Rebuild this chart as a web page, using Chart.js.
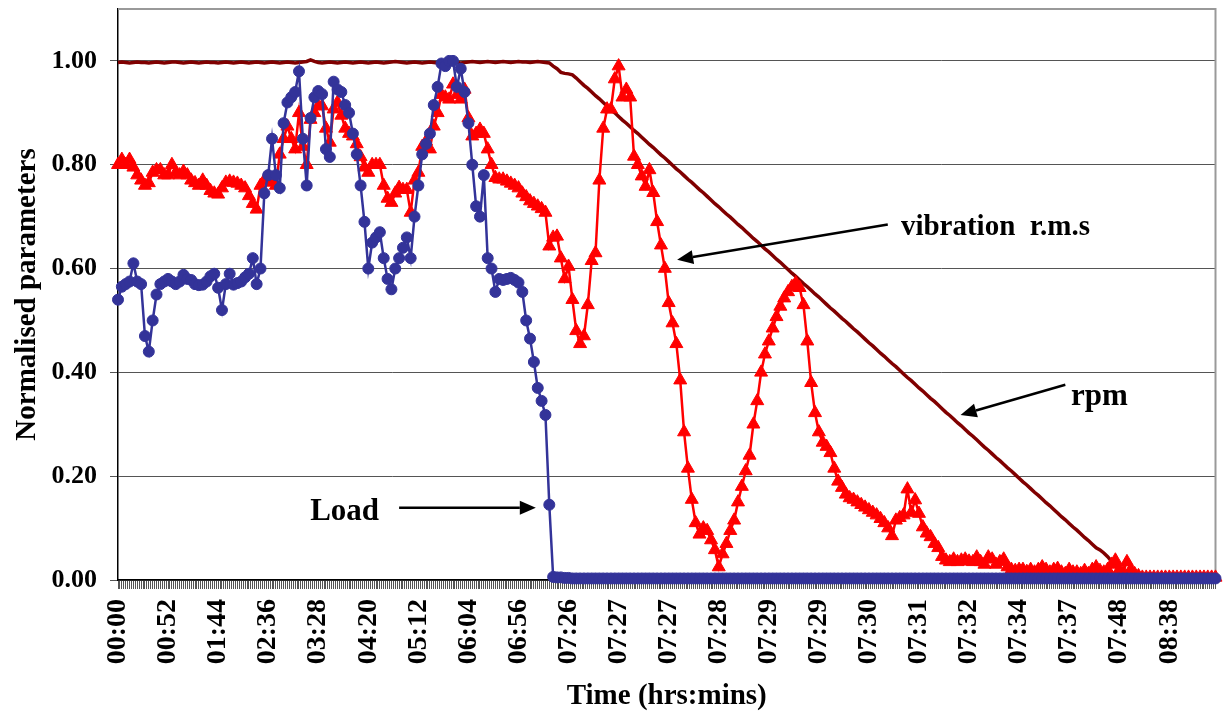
<!DOCTYPE html>
<html>
<head>
<meta charset="utf-8">
<script src="https://cdn.jsdelivr.net/npm/chart.js@4.4.1/dist/chart.umd.min.js"></script>
<style>
  html, body { margin: 0; padding: 0; background: #fff; }
  #wrap { width: 1224px; height: 718px; }
</style>
</head>
<body>
<div id="wrap"><canvas id="chart" width="1224" height="718"></canvas></div>
<script>
// --- Data (one value per sample, label every 13th sample) ---
const tickLabels = ['00:00', '00:52', '01:44', '02:36', '03:28', '04:20', '05:12', '06:04', '06:56',
    '07:26', '07:27', '07:27', '07:28', '07:29', '07:29', '07:30', '07:31', '07:32', '07:34',
    '07:37', '07:48', '08:38'];
const LABEL_EVERY = 13;

const loadValues = [
    /*0*/   0.54, 0.565, 0.57, 0.575, 0.61, 0.575, 0.57, 0.47, 0.44, 0.50,
    /*10*/  0.55, 0.57, 0.575, 0.58, 0.575, 0.57, 0.575, 0.588, 0.58, 0.578,
    /*20*/  0.57, 0.568, 0.569, 0.575, 0.585, 0.59, 0.563, 0.52, 0.57, 0.59,
    /*30*/  0.569, 0.572, 0.575, 0.583, 0.59, 0.62, 0.57, 0.60, 0.745, 0.78,
    /*40*/  0.85, 0.78, 0.755, 0.88, 0.92, 0.93, 0.94, 0.98, 0.85, 0.76,
    /*50*/  0.89, 0.93, 0.942, 0.936, 0.83, 0.815, 0.96, 0.945, 0.94, 0.915,
    /*60*/  0.90, 0.86, 0.82, 0.76, 0.69, 0.60, 0.65, 0.66, 0.67, 0.62,
    /*70*/  0.58, 0.56, 0.60, 0.62, 0.64, 0.66, 0.62, 0.70, 0.76, 0.82,
    /*80*/  0.84, 0.86, 0.915, 0.95, 0.995, 0.99, 1.0, 1.0, 0.95, 0.985,
    /*90*/  0.94, 0.88, 0.80, 0.72, 0.70, 0.78, 0.62, 0.60, 0.555, 0.58,
    /*100*/ 0.578, 0.58, 0.582, 0.578, 0.573, 0.555, 0.50, 0.465, 0.42, 0.37,
    /*110*/ 0.345, 0.318, 0.145, 0.006, 0.005, 0.005, 0.004, 0.004, 0.003, 0.003,
    /*120*/ 0.003, 0.003, 0.003, 0.003, 0.003, 0.003, 0.003, 0.003, 0.003, 0.003,
    /*130*/ 0.003, 0.003, 0.003, 0.003, 0.003, 0.003, 0.003, 0.003, 0.003, 0.003,
    /*140*/ 0.003, 0.003, 0.003, 0.003, 0.003, 0.003, 0.003, 0.003, 0.003, 0.003,
    /*150*/ 0.003, 0.003, 0.003, 0.003, 0.003, 0.003, 0.003, 0.003, 0.003, 0.003,
    /*160*/ 0.003, 0.003, 0.003, 0.003, 0.003, 0.003, 0.003, 0.003, 0.003, 0.003,
    /*170*/ 0.003, 0.003, 0.003, 0.003, 0.003, 0.003, 0.003, 0.003, 0.003, 0.003,
    /*180*/ 0.003, 0.003, 0.003, 0.003, 0.003, 0.003, 0.003, 0.003, 0.003, 0.003,
    /*190*/ 0.003, 0.003, 0.003, 0.003, 0.003, 0.003, 0.003, 0.003, 0.003, 0.003,
    /*200*/ 0.003, 0.003, 0.003, 0.003, 0.003, 0.003, 0.003, 0.003, 0.003, 0.003,
    /*210*/ 0.003, 0.003, 0.003, 0.003, 0.003, 0.003, 0.003, 0.003, 0.003, 0.003,
    /*220*/ 0.003, 0.003, 0.003, 0.003, 0.003, 0.003, 0.003, 0.003, 0.003, 0.003,
    /*230*/ 0.003, 0.003, 0.003, 0.003, 0.003, 0.003, 0.003, 0.003, 0.003, 0.003,
    /*240*/ 0.003, 0.003, 0.003, 0.003, 0.003, 0.003, 0.003, 0.003, 0.003, 0.003,
    /*250*/ 0.003, 0.003, 0.003, 0.003, 0.003, 0.003, 0.003, 0.003, 0.003, 0.003,
    /*260*/ 0.003, 0.003, 0.003, 0.003, 0.003, 0.003, 0.003, 0.003, 0.003, 0.003,
    /*270*/ 0.003, 0.003, 0.003, 0.003, 0.003, 0.003, 0.003, 0.003, 0.003, 0.003,
    /*280*/ 0.003, 0.003, 0.003, 0.003, 0.003, 0.003
];

const vibValues = [
    /*0*/   0.80, 0.81, 0.80, 0.81, 0.795, 0.78, 0.77, 0.76, 0.765, 0.785,
    /*10*/  0.79, 0.79, 0.78, 0.78, 0.80, 0.785, 0.78, 0.787, 0.78, 0.77,
    /*20*/  0.765, 0.76, 0.77, 0.76, 0.75, 0.745, 0.743, 0.755, 0.766, 0.768,
    /*30*/  0.766, 0.764, 0.76, 0.755, 0.74, 0.725, 0.714, 0.76, 0.77, 0.77,
    /*40*/  0.766, 0.76, 0.82, 0.85, 0.874, 0.85, 0.83, 0.90, 0.835, 0.80,
    /*50*/  0.887, 0.90, 0.913, 0.913, 0.87, 0.843, 0.907, 0.92, 0.895, 0.87,
    /*60*/  0.86, 0.855, 0.84, 0.815, 0.795, 0.785, 0.80, 0.80, 0.80, 0.76,
    /*70*/  0.735, 0.727, 0.745, 0.756, 0.752, 0.752, 0.708, 0.77, 0.785, 0.835,
    /*80*/  0.845, 0.83, 0.874, 0.90, 0.935, 0.93, 0.926, 0.955, 0.935, 0.926,
    /*90*/  0.945, 0.89, 0.855, 0.86, 0.868, 0.86, 0.83, 0.80, 0.775, 0.772,
    /*100*/ 0.772, 0.768, 0.764, 0.76, 0.755, 0.745, 0.738, 0.73, 0.725, 0.72,
    /*110*/ 0.715, 0.708, 0.643, 0.66, 0.662, 0.62, 0.58, 0.604, 0.54, 0.48,
    /*120*/ 0.455, 0.47, 0.53, 0.615, 0.63, 0.77, 0.87, 0.907, 0.907, 0.965,
    /*130*/ 0.99, 0.93, 0.945, 0.93, 0.816, 0.80, 0.778, 0.758, 0.79, 0.746,
    /*140*/ 0.69, 0.645, 0.60, 0.534, 0.495, 0.455, 0.385, 0.285, 0.215, 0.155,
    /*150*/ 0.11, 0.088, 0.10, 0.095, 0.077, 0.058, 0.025, 0.05, 0.07, 0.095,
    /*160*/ 0.115, 0.15, 0.18, 0.21, 0.24, 0.30, 0.345, 0.40, 0.435, 0.46,
    /*170*/ 0.485, 0.507, 0.527, 0.543, 0.555, 0.565, 0.572, 0.563, 0.53, 0.46,
    /*180*/ 0.38, 0.322, 0.285, 0.265, 0.257, 0.245, 0.215, 0.19, 0.178, 0.165,
    /*190*/ 0.158, 0.155, 0.15, 0.145, 0.14, 0.135, 0.13, 0.125, 0.118, 0.11,
    /*200*/ 0.10, 0.085, 0.115, 0.12, 0.125, 0.175, 0.13, 0.154, 0.128, 0.102,
    /*210*/ 0.09, 0.083, 0.07, 0.062, 0.045, 0.038, 0.035, 0.04, 0.035, 0.038,
    /*220*/ 0.04, 0.036, 0.035, 0.044, 0.035, 0.03, 0.044, 0.04, 0.03, 0.035,
    /*230*/ 0.04, 0.025, 0.02, 0.018, 0.02, 0.02, 0.016, 0.02, 0.015, 0.02,
    /*240*/ 0.025, 0.02, 0.015, 0.02, 0.022, 0.015, 0.012, 0.02, 0.015, 0.015,
    /*250*/ 0.012, 0.018, 0.012, 0.02, 0.025, 0.018, 0.015, 0.02, 0.03, 0.038,
    /*260*/ 0.02, 0.015, 0.035, 0.02, 0.012, 0.008, 0.005, 0.005, 0.005, 0.005,
    /*270*/ 0.005, 0.005, 0.005, 0.005, 0.005, 0.005, 0.005, 0.005, 0.005, 0.005,
    /*280*/ 0.005, 0.005, 0.005, 0.005, 0.005, 0.005
];

const rpmValues = [
    /*0*/   0.997, 0.998, 0.997, 0.996, 0.997, 0.998, 0.997, 0.997, 0.996, 0.997,
    /*10*/  0.998, 0.997, 0.996, 0.997, 0.998, 0.998, 0.997, 0.996, 0.997, 0.998,
    /*20*/  0.997, 0.996, 0.997, 0.998, 0.997, 0.997, 0.996, 0.997, 0.998, 0.997,
    /*30*/  0.996, 0.997, 0.998, 0.997, 0.996, 0.997, 0.998, 0.997, 0.996, 0.997,
    /*40*/  0.998, 0.997, 0.996, 0.997, 0.998, 0.997, 0.996, 0.997, 0.998, 0.999,
    /*50*/  1.002, 0.999, 0.997, 0.996, 0.997, 0.998, 0.997, 0.996, 0.997, 0.998,
    /*60*/  0.997, 0.996, 0.997, 0.998, 0.997, 0.996, 0.997, 0.998, 0.997, 0.996,
    /*70*/  0.997, 0.998, 0.999, 0.998, 0.997, 0.996, 0.997, 0.998, 0.997, 0.996,
    /*80*/  0.997, 0.998, 0.997, 0.996, 0.997, 0.998, 0.999, 0.998, 0.997, 0.996,
    /*90*/  0.997, 0.998, 0.999, 0.998, 0.997, 0.998, 0.999, 0.998, 0.997, 0.998,
    /*100*/ 0.999, 0.998, 0.997, 0.998, 0.999, 0.998, 0.998, 0.997, 0.998, 0.999,
    /*110*/ 0.998, 0.997, 0.996, 0.99, 0.985, 0.978, 0.976, 0.975, 0.973, 0.967,
    /*120*/ 0.960, 0.953, 0.947, 0.940, 0.933, 0.927, 0.920, 0.913, 0.906, 0.900,
    /*130*/ 0.893, 0.886, 0.880, 0.873, 0.866, 0.860, 0.853, 0.846, 0.839, 0.833,
    /*140*/ 0.826, 0.819, 0.813, 0.806, 0.799, 0.792, 0.786, 0.779, 0.772, 0.766,
    /*150*/ 0.759, 0.752, 0.746, 0.739, 0.732, 0.725, 0.719, 0.712, 0.705, 0.699,
    /*160*/ 0.692, 0.685, 0.679, 0.672, 0.665, 0.658, 0.652, 0.645, 0.638, 0.632,
    /*170*/ 0.625, 0.618, 0.612, 0.605, 0.598, 0.591, 0.585, 0.578, 0.571, 0.565,
    /*180*/ 0.558, 0.551, 0.545, 0.538, 0.531, 0.524, 0.518, 0.511, 0.504, 0.498,
    /*190*/ 0.491, 0.484, 0.478, 0.471, 0.464, 0.457, 0.451, 0.444, 0.437, 0.431,
    /*200*/ 0.424, 0.417, 0.411, 0.404, 0.397, 0.390, 0.384, 0.377, 0.370, 0.364,
    /*210*/ 0.357, 0.350, 0.344, 0.337, 0.330, 0.323, 0.317, 0.310, 0.303, 0.297,
    /*220*/ 0.290, 0.283, 0.277, 0.270, 0.263, 0.256, 0.250, 0.243, 0.236, 0.230,
    /*230*/ 0.223, 0.216, 0.210, 0.203, 0.196, 0.189, 0.183, 0.176, 0.169, 0.163,
    /*240*/ 0.156, 0.149, 0.143, 0.136, 0.129, 0.122, 0.116, 0.109, 0.102, 0.096,
    /*250*/ 0.089, 0.082, 0.076, 0.069, 0.062, 0.058, 0.052, 0.045, 0.036, 0.028,
    /*260*/ 0.020, 0.012, 0.006, 0.002, 0, 0, 0, 0, 0, 0,
    /*270*/ 0, 0, 0, 0, 0, 0, 0, 0, 0, 0,
    /*280*/ 0, 0, 0, 0, 0, 0
];

// Callout texts and arrows, in data units (sample index, value)
const notes = [
    { text: 'vibration  r.m.s', size: 29, at: [203.3, 0.664], from: [199.9, 0.685], to: [145.2, 0.617], align: 'left' },
    { text: 'rpm', size: 31, at: [247.5, 0.338], from: [246, 0.376], to: [218.8, 0.318], align: 'left' },
    { text: 'Load', size: 31, at: [67.8, 0.116], from: [73, 0.139], to: [108.5, 0.139], align: 'right' }
];

// --- Chart setup ---
const FONT = "'Liberation Serif', 'Times New Roman', serif";
Chart.defaults.font.family = FONT;
Chart.defaults.font.weight = 'bold';
Chart.defaults.color = '#000';

const toPoints = vals => vals.map((v, i) => ({ x: i, y: v }));

const drawArrow = (ctx, x1, y1, x2, y2) => {
    const ang = Math.atan2(y2 - y1, x2 - x1);
    const headLen = 16, headW = 7;
    const bx = x2 - headLen * Math.cos(ang), by = y2 - headLen * Math.sin(ang);
    ctx.beginPath();
    ctx.moveTo(x1, y1);
    ctx.lineTo(bx, by);
    ctx.stroke();
    ctx.beginPath();
    ctx.moveTo(x2, y2);
    ctx.lineTo(bx + headW * Math.sin(ang), by - headW * Math.cos(ang));
    ctx.lineTo(bx - headW * Math.sin(ang), by + headW * Math.cos(ang));
    ctx.closePath();
    ctx.fill();
};

const framePlugin = {
    id: 'frame',
    beforeDatasetsDraw(chart) {
        const { ctx, chartArea: a } = chart;
        ctx.save();
        ctx.strokeStyle = '#999';
        ctx.lineWidth = 2;
        ctx.beginPath();
        ctx.moveTo(a.left, a.top);
        ctx.lineTo(a.right, a.top);
        ctx.lineTo(a.right, a.bottom);
        ctx.stroke();
        ctx.restore();
    }
};

const notesPlugin = {
    id: 'notes',
    afterDatasetsDraw(chart) {
        const { ctx, scales: { x, y } } = chart;
        ctx.save();
        ctx.fillStyle = '#000';
        ctx.strokeStyle = '#000';
        ctx.lineWidth = 2.5;
        ctx.textBaseline = 'alphabetic';
        notes.forEach(n => {
            ctx.font = 'bold ' + n.size + 'px ' + FONT;
            ctx.textAlign = n.align;
            ctx.fillText(n.text, x.getPixelForValue(n.at[0]), y.getPixelForValue(n.at[1]));
            drawArrow(ctx,
                x.getPixelForValue(n.from[0]), y.getPixelForValue(n.from[1]),
                x.getPixelForValue(n.to[0]), y.getPixelForValue(n.to[1]));
        });
        ctx.restore();
    }
};

const chart = new Chart(document.getElementById('chart').getContext('2d'), {
    type: 'line',
    data: {
        datasets: [
            {
                label: 'Load',
                data: toPoints(loadValues),
                borderColor: '#333399',
                backgroundColor: '#333399',
                borderWidth: 2.5,
                pointStyle: 'circle',
                pointRadius: 5.5,
                pointBorderWidth: 1,
                clip: false
            },
            {
                label: 'vibration r.m.s',
                data: toPoints(vibValues),
                borderColor: '#ff0000',
                backgroundColor: '#ff0000',
                borderWidth: 2.5,
                pointStyle: 'triangle',
                pointRadius: 7.5,
                pointBorderWidth: 1,
                clip: false
            },
            {
                label: 'rpm',
                data: toPoints(rpmValues),
                borderColor: '#800000',
                backgroundColor: '#800000',
                borderWidth: 3.5,
                pointRadius: 0,
                clip: false
            }
        ]
    },
    options: {
        responsive: false,
        animation: false,
        devicePixelRatio: 1,
        layout: { padding: { top: 9, right: 6, left: 0, bottom: 0 } },
        plugins: {
            legend: { display: false },
            tooltip: { enabled: false }
        },
        scales: {
            x: {
                type: 'linear',
                min: 0,
                max: loadValues.length - 1,
                afterFit: s => { s.height = 138; s.paddingLeft = 0; s.paddingRight = 0; },
                border: { color: '#000', width: 1.5 },
                grid: { drawOnChartArea: false, drawTicks: true, tickLength: 9, color: '#555', lineWidth: 1 },
                ticks: {
                    stepSize: 0.5,
                    autoSkip: false,
                    maxRotation: 90,
                    minRotation: 90,
                    padding: 10,
                    color: '#000',
                    font: { size: 28, weight: 'bold' },
                    callback: v => (Number.isInteger(v) && v % LABEL_EVERY === 0 && tickLabels[v / LABEL_EVERY]) || ''
                },
                title: {
                    display: true,
                    text: 'Time (hrs:mins)',
                    color: '#000',
                    font: { size: 29, weight: 'bold' },
                    padding: { top: 0, bottom: 4 }
                }
            },
            y: {
                min: 0,
                max: 1.1,
                afterFit: s => { s.width = 118; s.paddingTop = 0; s.paddingBottom = 0; },
                border: { color: '#000', width: 1.5 },
                grid: { color: '#555', lineWidth: 1, tickLength: 8, drawTicks: true },
                ticks: {
                    stepSize: 0.2,
                    includeBounds: false,
                    padding: 13,
                    color: '#000',
                    font: { size: 26, weight: 'bold' },
                    callback: v => v.toFixed(2)
                },
                title: {
                    display: true,
                    text: 'Normalised parameters',
                    color: '#000',
                    font: { size: 29, weight: 'bold' },
                    padding: { top: 10, bottom: 0 }
                }
            }
        }
    },
    plugins: [framePlugin, notesPlugin]
});
</script>
</body>
</html>
